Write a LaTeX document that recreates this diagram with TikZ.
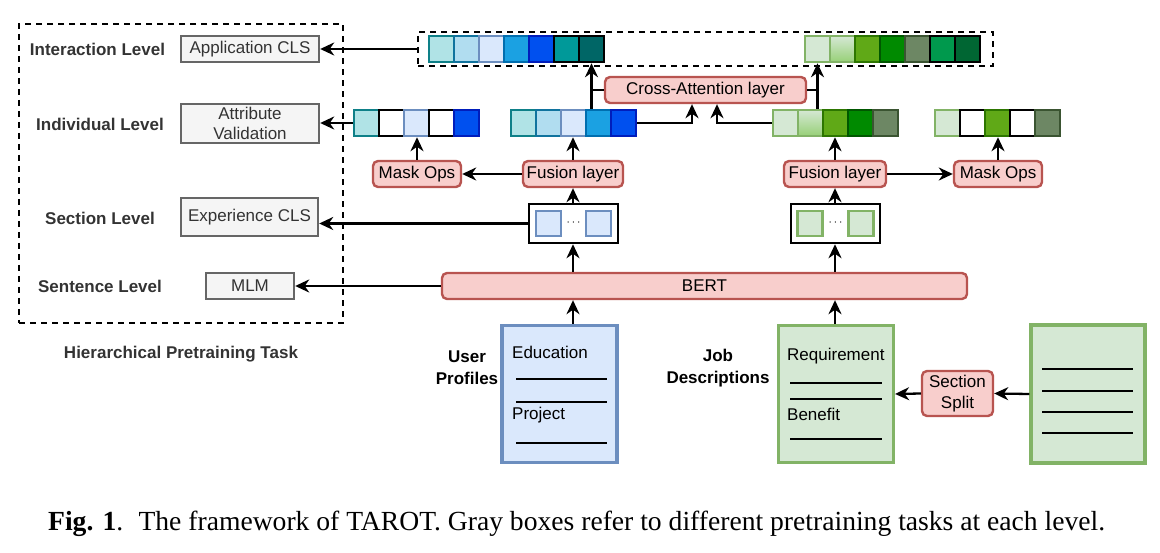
\documentclass[tikz,border=0pt]{standalone}
\usepackage{fontspec}
\setmainfont{Liberation Sans}
\newfontfamily\capfont{Liberation Serif}
\usetikzlibrary{arrows.meta}
\definecolor{pinkF}{HTML}{F8CECC}\definecolor{pinkS}{HTML}{B85450}
\definecolor{grayF}{HTML}{F5F5F5}\definecolor{grayS}{HTML}{666666}\definecolor{grayT}{HTML}{333333}
\definecolor{cTealL}{HTML}{B0E3E6}\definecolor{sTealL}{HTML}{0E8088}
\definecolor{cSkyL}{HTML}{B1DDF0}\definecolor{sSkyL}{HTML}{10739E}
\definecolor{cBlueL}{HTML}{DAE8FC}\definecolor{sBlueL}{HTML}{6C8EBF}
\definecolor{cSky}{HTML}{1BA1E2}\definecolor{sSky}{HTML}{006EAF}
\definecolor{cBlueD}{HTML}{0050EF}\definecolor{sBlueD}{HTML}{001DBC}
\definecolor{cTeal}{HTML}{009999}\definecolor{cTealD}{HTML}{006666}
\definecolor{cGrnL}{HTML}{D5E8D4}\definecolor{sGrnL}{HTML}{82B366}
\definecolor{cGrnG}{HTML}{97D077}
\definecolor{cGrn}{HTML}{60A917}\definecolor{sGrn}{HTML}{2D7600}
\definecolor{cGrnD}{HTML}{008A00}\definecolor{sGrnD}{HTML}{005700}
\definecolor{cOlive}{HTML}{6D8764}\definecolor{sOlive}{HTML}{3A5431}
\definecolor{cEmer}{HTML}{00994D}\definecolor{cEmerD}{HTML}{006633}
\begin{document}
\begin{tikzpicture}[x=1pt,y=-1pt,
  every node/.style={font=\fontsize{17}{21}\selectfont},
  pink/.style={draw=pinkS, fill=pinkF, line width=2.4pt, rounded corners=5pt, inner sep=0pt, align=center},
  graybox/.style={draw=grayS, fill=grayF, line width=2.4pt, text=grayT, inner sep=0pt, align=center},
  lbl/.style={font=\fontsize{17}{21}\selectfont\bfseries, text=grayT, inner sep=0pt},
  dbox/.style={draw=black, line width=2.2pt, dash pattern=on 6pt off 5pt, inner sep=0pt},
  cell/.style={minimum width=25pt, minimum height=26pt, inner sep=0pt, line width=2.5pt},
  sq/.style={minimum width=25pt, minimum height=25pt, inner sep=0pt, line width=2.5pt},
  cont/.style={draw=black, line width=2.5pt, minimum width=89pt, minimum height=39pt, inner sep=0pt},
  doc/.style={line width=3.2pt, inner sep=0pt, minimum width=115pt, minimum height=137pt},
  arr/.style={-{Stealth[length=14pt,width=13pt,inset=4.5pt]}, line width=2.3pt},
  ln/.style={line width=2.3pt},
  rule/.style={line width=2pt},
  tealL/.style={fill=cTealL, draw=sTealL},
  skyL/.style={fill=cSkyL, draw=sSkyL},
  blueL/.style={fill=cBlueL, draw=sBlueL},
  sky/.style={fill=cSky, draw=sSky},
  blueD/.style={fill=cBlueD, draw=sBlueD},
  teal/.style={fill=cTeal, draw=black},
  tealD/.style={fill=cTealD, draw=black},
  blank/.style={fill=white, draw=black},
  grnL/.style={fill=cGrnL, draw=sGrnL},
  grnG/.style={top color=cGrnL, bottom color=cGrnG, draw=sGrnL},
  grn/.style={fill=cGrn, draw=sGrn},
  grnD/.style={fill=cGrnD, draw=sGrnD},
  olive/.style={fill=cOlive, draw=sOlive},
  emer/.style={fill=cEmer, draw=black},
  emerD/.style={fill=cEmerD, draw=black}]
\useasboundingbox (0,0) rectangle (1160,553);

% ---------- left panel ----------
\node[dbox, minimum width=324pt, minimum height=299pt] (tasks) at (181,173.5) {};
\node[lbl] (l1) at (97.5,49) {Interaction Level};
\node[lbl] (l2) at (100,124) {Individual Level};
\node[lbl] (l3) at (100,218) {Section Level};
\node[lbl] (l4) at (100,286) {Sentence Level};
\node[lbl] (l5) at (181,354) {Hierarchical Pretraining Task};
\node[graybox, minimum width=138pt, minimum height=26pt] (appcls) at (250,49) {Application CLS};
\node[graybox, minimum width=138pt, minimum height=39pt, font=\fontsize{17}{20.5}\selectfont] (attr) at (250,123.5) {Attribute\\Validation};
\node[graybox, minimum width=137pt, minimum height=38pt] (expcls) at (249.5,217) {Experience CLS};
\node[graybox, minimum width=88pt, minimum height=26pt] (mlm) at (250,286) {MLM};

% ---------- top row ----------
\node[dbox, minimum width=575pt, minimum height=34pt] (top) at (705.5,49) {};
\foreach \st [count=\i] in {tealL,skyL,blueL,sky,blueD,teal,tealD}
  \node[cell,\st] (ta\i) at ({441.5+25*(\i-1)},49) {};
\foreach \st [count=\i] in {grnL,grnG,grn,grnD,olive,emer,emerD}
  \node[cell,\st] (tg\i) at ({817.5+25*(\i-1)},49) {};
\node[pink, minimum width=201pt, minimum height=26pt] (ca) at (705.5,90) {Cross-Attention layer};

% ---------- second row ----------
\foreach \st [count=\i] in {tealL,blank,blueL,blank,blueD}
  \node[cell,\st] (ml\i) at ({366.5+25*(\i-1)},123) {};
\foreach \st [count=\i] in {tealL,skyL,blueL,sky,blueD}
  \node[cell,\st] (mb\i) at ({523.5+25*(\i-1)},123) {};
\foreach \st [count=\i] in {grnL,grnG,grn,grnD,olive}
  \node[cell,\st] (gm\i) at ({785.5+25*(\i-1)},123) {};
\foreach \st [count=\i] in {grnL,blank,grn,blank,olive}
  \node[cell,\st] (mg\i) at ({947.5+25*(\i-1)},123) {};

% ---------- fusion / mask ----------
\node[pink, minimum width=88pt, minimum height=26pt] (mo1) at (417,174) {Mask Ops};
\node[pink, minimum width=100pt, minimum height=26pt] (fu1) at (573,174) {Fusion layer};
\node[pink, minimum width=102pt, minimum height=26pt] (fu2) at (835,174) {Fusion layer};
\node[pink, minimum width=88pt, minimum height=26pt] (mo2) at (998,174) {Mask Ops};

% ---------- containers ----------
\node[cont] (ct1) at (573.5,223.5) {};
\node[sq,blueL] (s11) at (548.5,223.5) {};
\node[sq,blueL] (s12) at (598.5,223.5) {};
\node[font=\fontsize{12}{14}\selectfont, inner sep=0pt] (d1) at (573.5,223) {$\cdots$};
\node[cont] (ct2) at (835.5,223.5) {};
\node[sq,grnL] (s21) at (810,223.5) {};
\node[sq,grnL] (s22) at (861,223.5) {};
\node[font=\fontsize{12}{14}\selectfont, inner sep=0pt] (d2) at (835.5,223) {$\cdots$};

% ---------- BERT ----------
\node[pink, minimum width=525pt, minimum height=26pt] (bert) at (704.5,286) {BERT};

% ---------- documents ----------
\node[doc, draw=sBlueL, fill=cBlueL] (ud) at (559.5,394) {};
\node[doc, draw=sGrnL, fill=cGrnL] (jd) at (836,394) {};
\node[doc, draw=sGrnL, fill=cGrnL, minimum width=114pt, minimum height=138pt] (rd) at (1088,394) {};
\node[anchor=west, inner sep=0pt] (edu) at (512,352) {Education};
\node[anchor=west, inner sep=0pt] (proj) at (512,415) {Project};
\draw[rule] (516,379) -- (607,379);
\draw[rule] (516,402) -- (607,402);
\draw[rule] (516,443) -- (607,443);
\node[anchor=west, inner sep=0pt] (req) at (787,356) {Requirement};
\node[anchor=west, inner sep=0pt] (ben) at (787,414) {Benefit};
\draw[rule] (790,383) -- (882,383);
\draw[rule] (790,399) -- (882,399);
\draw[rule] (790,439) -- (882,439);
\foreach \yy in {369,391,412,433} \draw[rule] (1042,\yy) -- (1133,\yy);
\node[pink, minimum width=71pt, minimum height=45pt, font=\fontsize{17}{21}\selectfont] (ss) at (957.5,393.5) {Section\\Split};
\node[font=\fontsize{17}{22}\selectfont\bfseries, align=center, inner sep=0pt] (up) at (467,368) {User\\Profiles};
\node[font=\fontsize{17}{22}\selectfont\bfseries, align=center, inner sep=0pt] (jdl) at (718,368) {Job\\Descriptions};

% ---------- connectors ----------
\draw[arr] (top.west) -- (appcls.east);
\draw[arr] (ml1.west) -- (ml1.west -| attr.east);
\draw[arr] (ct1.west) -- (ct1.west -| expcls.east);
\draw[arr] (bert.west) -- (mlm.east);

\draw[arr] (mb4.north -| ta7.south) -- (ta7.south);
\draw[ln] (ca.west) -- (ca.west -| ta7.south);
\draw[arr] (gm2.north -| tg1.south) -- (tg1.south);
\draw[ln] (ca.east) -- (ca.east -| tg1.south);
\path (ca.south) ++(-13.5,0) coordinate (caL) ++(25,0) coordinate (caR);
\draw[arr] (mb5.east) -| (caL);
\draw[arr] (gm1.west) -| (caR);

\draw[arr] (fu1.north) -- (fu1.north |- mb1.south);
\draw[arr] (fu1.west) -- (mo1.east);
\draw[arr] (mo1.north) -- (mo1.north |- ml1.south);
\draw[arr] (fu2.north) -- (fu2.north |- gm1.south);
\draw[arr] (fu2.east) -- (mo2.west);
\draw[arr] (mo2.north) -- (mo2.north |- mg1.south);

\draw[arr] (fu1.south |- ct1.north) -- (fu1.south);
\draw[arr] (fu2.south |- ct2.north) -- (fu2.south);
\draw[arr] (fu1.south |- bert.north) -- (fu1.south |- ct1.south);
\draw[arr] (fu2.south |- bert.north) -- (fu2.south |- ct2.south);
\draw[arr] (fu1.south |- ud.north) -- (fu1.south |- bert.south);
\draw[arr] (fu2.south |- jd.north) -- (fu2.south |- bert.south);

\draw[arr] (rd.west) -- (ss.east);
\draw[arr] (ss.west) -- (jd.east);

% ---------- caption ----------
\node[anchor=base west, inner sep=0pt] (cap) at (48,530)
  {\resizebox{1057pt}{!}{\capfont\textbf{Fig. 1}.\hspace{0.55em}The framework of TAROT. Gray boxes refer to different pretraining tasks at each level.}};
\end{tikzpicture}
\end{document}
